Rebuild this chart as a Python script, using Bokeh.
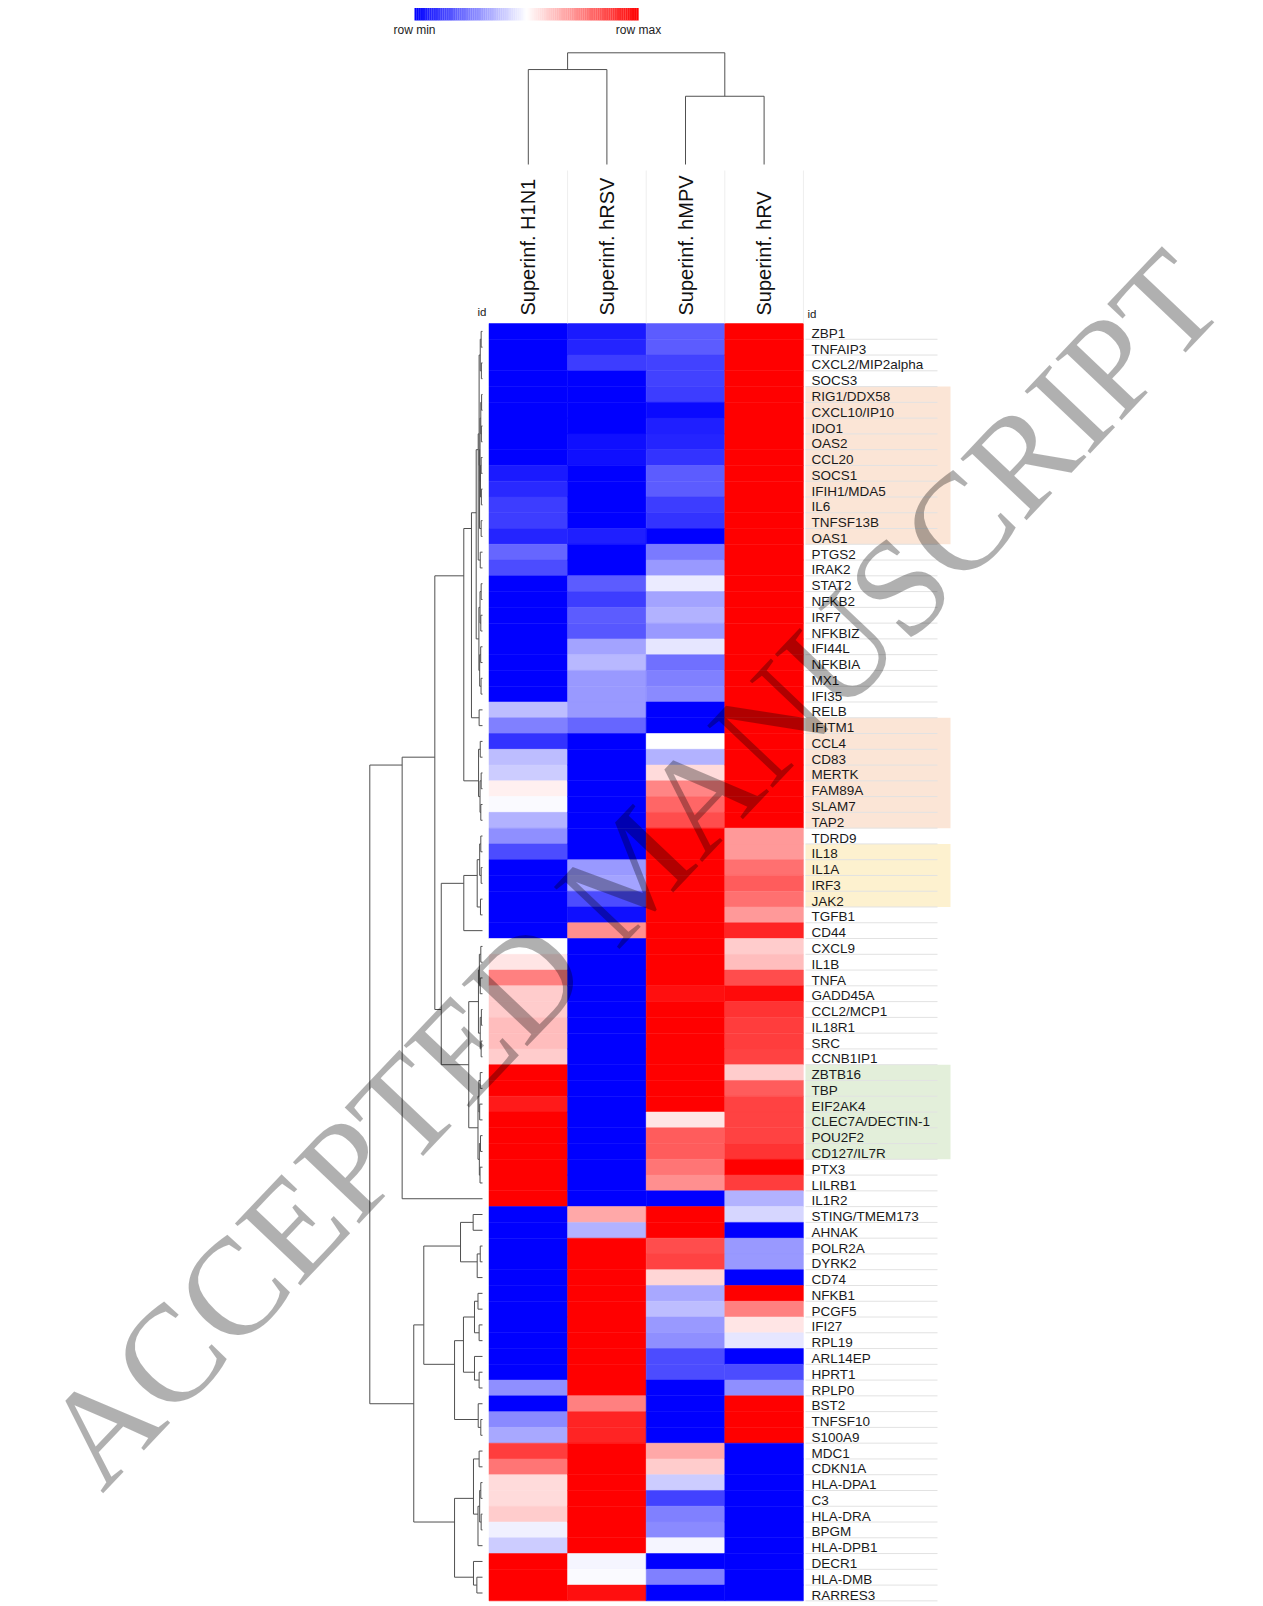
import math
from bokeh.plotting import figure
from bokeh.models import Range1d
from bokeh.embed import file_html
from bokeh.resources import INLINE
from bokeh.core.properties import value

# ---------------- data ----------------
genes = ["ZBP1", "TNFAIP3", "CXCL2/MIP2alpha", "SOCS3", "RIG1/DDX58", "CXCL10/IP10", "IDO1", "OAS2",
         "CCL20", "SOCS1", "IFIH1/MDA5", "IL6", "TNFSF13B", "OAS1", "PTGS2", "IRAK2", "STAT2", "NFKB2",
         "IRF7", "NFKBIZ", "IFI44L", "NFKBIA", "MX1", "IFI35", "RELB", "IFITM1", "CCL4", "CD83", "MERTK",
         "FAM89A", "SLAM7", "TAP2", "TDRD9", "IL18", "IL1A", "IRF3", "JAK2", "TGFB1", "CD44", "CXCL9",
         "IL1B", "TNFA", "GADD45A", "CCL2/MCP1", "IL18R1", "SRC", "CCNB1IP1", "ZBTB16", "TBP", "EIF2AK4",
         "CLEC7A/DECTIN-1", "POU2F2", "CD127/IL7R", "PTX3", "LILRB1", "IL1R2", "STING/TMEM173", "AHNAK",
         "POLR2A", "DYRK2", "CD74", "NFKB1", "PCGF5", "IFI27", "RPL19", "ARL14EP", "HPRT1", "RPLP0",
         "BST2", "TNFSF10", "S100A9", "MDC1", "CDKN1A", "HLA-DPA1", "C3", "HLA-DRA", "BPGM", "HLA-DPB1",
         "DECR1", "HLA-DMB", "RARRES3"]

samples = ["Superinf. H1N1", "Superinf. hRSV", "Superinf. hMPV", "Superinf. hRV"]

# row-normalised values: 0 = row min, 1 = row max
h1n1 = [0, 0, 0, 0, 0, 0, 0, 0, 0, 0.05,
        0.08, 0.12, 0.12, 0.07, 0.2, 0.15, 0, 0, 0, 0,
        0, 0, 0, 0, 0.37, 0.25, 0.1, 0.37, 0.4, 0.53,
        0.49, 0.35, 0.28, 0.15, 0, 0, 0, 0, 0, 0.5,
        0.55, 0.75, 0.6, 0.6, 0.63, 0.63, 0.6, 1, 1, 0.95,
        1, 1, 1, 1, 1, 1, 0, 0, 0, 0,
        0, 0, 0, 0, 0, 0, 0, 0.28, 0, 0.27,
        0.33, 0.88, 0.77, 0.57, 0.57, 0.6, 0.47, 0.4, 1, 1,
        1]
hrsv = [0.05, 0.07, 0.12, 0, 0, 0, 0, 0.03, 0.03, 0,
        0, 0, 0, 0.06, 0, 0, 0.18, 0.12, 0.18, 0.17,
        0.32, 0.36, 0.3, 0.3, 0.3, 0.2, 0, 0, 0, 0,
        0, 0, 0, 0, 0.3, 0.32, 0.15, 0.03, 0.72, 0,
        0, 0, 0, 0, 0, 0, 0, 0, 0, 0,
        0, 0, 0, 0, 0, 0, 0.67, 0.35, 1, 1,
        1, 1, 1, 1, 1, 1, 1, 1, 0.75, 0.93,
        0.93, 1, 1, 1, 1, 1, 1, 1, 0.48, 0.49,
        0.97]
hmpv = [0.18, 0.18, 0.13, 0.13, 0.12, 0.02, 0.06, 0.07, 0.1, 0.18,
        0.18, 0.12, 0.1, 0, 0.24, 0.3, 0.46, 0.32, 0.35, 0.3,
        0.45, 0.22, 0.25, 0.27, 0, 0, 0.5, 0.35, 0.57, 0.74,
        0.8, 0.85, 1, 1, 1, 1, 1, 1, 1, 1,
        1, 1, 0.97, 1, 1, 1, 1, 1, 1, 1,
        0.55, 0.82, 0.82, 0.77, 0.72, 0, 1, 1, 0.85, 0.87,
        0.58, 0.33, 0.37, 0.3, 0.28, 0.15, 0.15, 0, 0, 0,
        0, 0.67, 0.6, 0.4, 0.13, 0.25, 0.27, 0.48, 0, 0.25,
        0]
hrv = [1, 1, 1, 1, 1, 1, 1, 1, 1, 1,
       1, 1, 1, 1, 1, 1, 1, 1, 1, 1,
       1, 1, 1, 1, 1, 1, 1, 1, 1, 1,
       1, 1, 0.7, 0.7, 0.78, 0.82, 0.78, 0.7, 0.93, 0.6,
       0.63, 0.85, 0.98, 0.9, 0.88, 0.88, 0.87, 0.6, 0.82, 0.87,
       0.87, 0.87, 0.9, 1, 0.88, 0.35, 0.42, 0, 0.3, 0.3,
       0, 1, 0.75, 0.55, 0.45, 0, 0.15, 0.28, 1, 1,
       1, 0, 0, 0, 0, 0, 0, 0, 0, 0,
       0]

# hierarchical clustering of rows: (child_a, child_b, distance); ids >= 81 are earlier merges
row_links = [
    (0, 1, 0.012), (2, 3, 0.010), (81, 82, 0.02), (4, 5, 0.008), (6, 7, 0.01), (84, 85, 0.015),
    (8, 9, 0.012), (10, 11, 0.01), (87, 88, 0.018), (86, 89, 0.022), (12, 13, 0.012), (90, 91, 0.026),
    (83, 92, 0.03), (14, 15, 0.02), (93, 94, 0.038),
    (16, 17, 0.012), (18, 19, 0.015), (96, 97, 0.022), (20, 21, 0.016), (22, 23, 0.013),
    (99, 100, 0.025), (98, 101, 0.032), (95, 102, 0.056), (24, 25, 0.03), (103, 104, 0.098),
    (26, 27, 0.02), (28, 29, 0.012), (30, 31, 0.015), (107, 108, 0.022), (106, 109, 0.035),
    (105, 110, 0.166),
    (32, 33, 0.015), (34, 35, 0.012), (112, 113, 0.025), (36, 37, 0.018), (114, 115, 0.047),
    (116, 38, 0.166),
    (39, 40, 0.015), (41, 42, 0.02), (118, 119, 0.028), (43, 44, 0.01), (45, 46, 0.012),
    (121, 122, 0.02), (120, 123, 0.036),
    (47, 48, 0.02), (49, 50, 0.025), (125, 126, 0.032), (51, 52, 0.018), (53, 54, 0.022),
    (128, 129, 0.028), (127, 130, 0.04), (124, 131, 0.122),
    (117, 132, 0.366), (111, 133, 0.423), (134, 55, 0.713),
    (56, 57, 0.083), (58, 59, 0.02), (137, 60, 0.047), (136, 138, 0.195),
    (61, 62, 0.04), (63, 64, 0.03), (140, 141, 0.071), (66, 67, 0.03), (65, 143, 0.071),
    (142, 144, 0.169), (69, 70, 0.015), (68, 146, 0.038), (145, 147, 0.248), (139, 148, 0.521),
    (71, 72, 0.03), (73, 74, 0.015), (75, 76, 0.012), (151, 152, 0.025), (153, 77, 0.04),
    (150, 154, 0.08), (79, 80, 0.05), (78, 156, 0.08), (155, 157, 0.248), (149, 158, 0.61),
    (135, 159, 1.0),
]

# clustering of columns
col_links = [(0, 1, 0.85), (2, 3, 0.611), (4, 5, 1.0)]

# annotated gene groups
group_orange_1 = ["RIG1/DDX58", "CXCL10/IP10", "IDO1", "OAS2", "CCL20", "SOCS1", "IFIH1/MDA5",
                  "IL6", "TNFSF13B", "OAS1"]
group_orange_2 = ["IFITM1", "CCL4", "CD83", "MERTK", "FAM89A", "SLAM7", "TAP2"]
group_yellow = ["IL18", "IL1A", "IRF3", "JAK2"]
group_green = ["ZBTB16", "TBP", "EIF2AK4", "CLEC7A/DECTIN-1", "POU2F2", "CD127/IL7R"]

watermark_words = ["ACCEPTED", "MANUSCRIPT"]

# ---------------- layout (page pixels) ----------------
W, H = 1263, 1606
HM_X = 488.5   # heatmap left edge
HM_Y = 323.0   # heatmap top edge
CW = 78.6      # px per column
RH = 15.77     # px per row
FONT = value("Liberation Sans")


def dx(px):
    return (px - HM_X) / CW


def dy(py):
    return (py - HM_Y) / RH


def ramp(v):
    if v < 0.5:
        t = v / 0.5
        r = g = int(round(255 * t))
        b = 255
    else:
        t = (v - 0.5) / 0.5
        r = 255
        g = b = int(round(255 * (1 - t)))
    return "#%02x%02x%02x" % (r, g, b)


p = figure(width=W, height=H,
           x_range=Range1d(dx(0), dx(W)),
           y_range=Range1d(dy(H), dy(0)),
           output_backend="svg", toolbar_location=None, min_border=0,
           x_axis_location=None, y_axis_location=None)
p.grid.visible = False
p.outline_line_color = None
p.background_fill_color = "white"

n_rows = len(genes)
columns = [h1n1, hrsv, hmpv, hrv]

# ---- highlight bands behind labels ----
band_l, band_r = dx(805), dx(950)
for grp, col in [(group_orange_1, "#fbe5d6"), (group_orange_2, "#fbe5d6"),
                 (group_yellow, "#fdf1cf"), (group_green, "#e3efda")]:
    idx = [genes.index(g) for g in grp]
    p.quad(left=[band_l], right=[band_r], top=[min(idx)], bottom=[max(idx) + 1],
           fill_color=col, line_color=None)

# ---- row separator lines in label column ----
p.segment(x0=[dx(805)] * n_rows, x1=[dx(937)] * n_rows,
          y0=[i + 1 for i in range(n_rows)], y1=[i + 1 for i in range(n_rows)],
          line_color="#e2e2e2", line_width=1)

# ---- heatmap ----
xs, ys, cs = [], [], []
for j, colvals in enumerate(columns):
    for i, v in enumerate(colvals):
        xs.append(j + 0.5)
        ys.append(i + 0.5)
        cs.append(ramp(v))
p.rect(x=xs, y=ys, width=1, height=1, fill_color=cs, line_color=cs, line_width=0.5)

# ---- gene labels ----
p.text(x=[dx(811)] * n_rows, y=[i + 0.63 for i in range(n_rows)], text=genes,
       text_font=FONT, text_font_size="13.5px", text_baseline="middle", text_align="left",
       text_color="#1a1a1a")

# ---- column header separators and labels ----
p.segment(x0=[1, 2, 3, 4], x1=[1, 2, 3, 4], y0=[dy(170)] * 4, y1=[0] * 4,
          line_color="#eeeeee", line_width=1)
p.text(x=[j + 0.5 for j in range(4)], y=[dy(315)] * 4, text=samples, angle=math.pi / 2,
       text_font=FONT, text_font_size="20px", text_baseline="middle", text_align="left",
       text_color="#111111")
p.text(x=[dx(486)], y=[dy(311)], text=["id"], text_font=FONT, text_font_size="11.5px",
       text_baseline="middle", text_align="right", text_color="#222222")
p.text(x=[dx(807)], y=[dy(313)], text=["id"], text_font=FONT, text_font_size="11.5px",
       text_baseline="middle", text_align="left", text_color="#222222")

# ---- row dendrogram (parent placed at mean of its leaves) ----
LEAF_END, ROOT_X = 482.0, 369.3
pos = {i: i + 0.5 for i in range(n_rows)}
size = {i: 1 for i in range(n_rows)}
hgt = {i: 0.0 for i in range(n_rows)}


def hx(h):
    return dx(LEAF_END - h * (LEAF_END - ROOT_X))


sx0, sx1, sy0, sy1 = [], [], [], []
nid = n_rows
for a, b, h in row_links:
    pos[nid] = (pos[a] * size[a] + pos[b] * size[b]) / (size[a] + size[b])
    size[nid] = size[a] + size[b]
    hgt[nid] = h
    sx0.append(hx(h)); sx1.append(hx(h)); sy0.append(pos[a]); sy1.append(pos[b])
    for c in (a, b):
        sx0.append(hx(hgt[c])); sx1.append(hx(h)); sy0.append(pos[c]); sy1.append(pos[c])
    nid += 1
p.segment(x0=sx0, x1=sx1, y0=sy0, y1=sy1, line_color="#505050", line_width=1)

# ---- column dendrogram ----
LEAF_TOP, ROOT_TOP = 164.0, 52.3
cpos = {j: j + 0.5 for j in range(4)}
csize = {j: 1 for j in range(4)}
chgt = {j: 0.0 for j in range(4)}


def vy(h):
    return dy(LEAF_TOP - h * (LEAF_TOP - ROOT_TOP))


cx0, cx1, cy0, cy1 = [], [], [], []
nid = 4
for a, b, h in col_links:
    cpos[nid] = (cpos[a] * csize[a] + cpos[b] * csize[b]) / (csize[a] + csize[b])
    csize[nid] = csize[a] + csize[b]
    chgt[nid] = h
    cx0.append(cpos[a]); cx1.append(cpos[b]); cy0.append(vy(h)); cy1.append(vy(h))
    for c in (a, b):
        cx0.append(cpos[c]); cx1.append(cpos[c]); cy0.append(vy(chgt[c])); cy1.append(vy(h))
    nid += 1
p.segment(x0=cx0, x1=cx1, y0=cy0, y1=cy1, line_color="#505050", line_width=1)

# ---- colour bar ----
NSEG = 120
cb_l, cb_r = 414.0, 638.0
seg_w = (cb_r - cb_l) / NSEG
p.quad(left=[dx(cb_l + k * seg_w) for k in range(NSEG)],
       right=[dx(cb_l + (k + 1) * seg_w) + 0.002 for k in range(NSEG)],
       top=[dy(7.5)] * NSEG, bottom=[dy(20)] * NSEG,
       fill_color=[ramp((k + 0.5) / NSEG) for k in range(NSEG)], line_color=None)
p.text(x=[dx(cb_l), dx(cb_r)], y=[dy(29)] * 2, text=["row min", "row max"],
       text_font=FONT, text_font_size="12px", text_baseline="middle", text_align="center",
       text_color="#222222")

# ---- watermark (two words along a diagonal, kept inside the page) ----
WM_SIZE = 138.0
WM_ANG = math.radians(46.5)
WM_CX, WM_CY = 631.5, 868.0
SERIF_ADV = {"A": 0.722, "C": 0.667, "E": 0.611, "P": 0.556, "T": 0.611, "D": 0.722, " ": 0.25,
             "M": 0.889, "N": 0.722, "U": 0.722, "S": 0.556, "R": 0.667, "I": 0.333}
ux, uy = math.cos(WM_ANG), -math.sin(WM_ANG)
full = " ".join(watermark_words)
total = sum(SERIF_ADV[c] for c in full) * WM_SIZE
wx, wy = [], []
cum = -total / 2
for k, word in enumerate(watermark_words):
    wlen = sum(SERIF_ADV[c] for c in word) * WM_SIZE
    o = cum + wlen / 2
    wx.append(dx(WM_CX + o * ux))
    wy.append(dy(WM_CY + o * uy))
    cum += wlen + SERIF_ADV[" "] * WM_SIZE
p.text(x=wx, y=wy, text=watermark_words, angle=WM_ANG,
       text_font=value("Liberation Serif"), text_font_size="%dpx" % WM_SIZE, text_align="center",
       text_baseline="middle", text_color="black", text_alpha=0.31)

open("out.html", "w").write(file_html(p, INLINE))
